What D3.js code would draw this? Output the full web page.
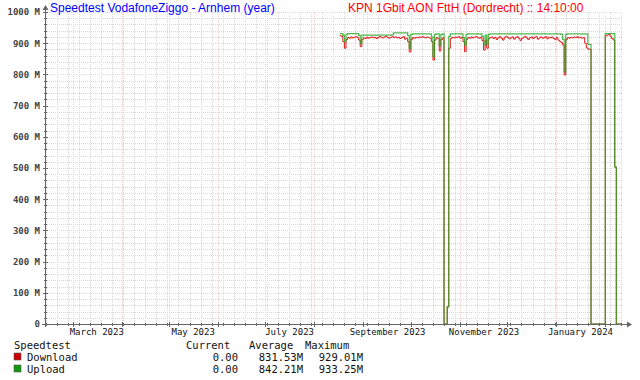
<!DOCTYPE html>
<html>
<head>
<meta charset="utf-8">
<script src="https://cdn.jsdelivr.net/npm/d3@7"></script>
<style>
  body { margin: 0; background: #fff; }
  svg { display: block; }
</style>
</head>
<body>
<div id="chart"></div>
<script>
// chart window and series (daily values, Mbit/s, one per day from seriesStart)
const windowStart = "2023-02-11T14:10:00";
const windowEnd = "2024-02-11T14:10:00";
const seriesStart = "2023-08-17";

const download = [
  924, 922, 905, 884, 912, 918, 916, 920, 917, 919, 921, 918, 910, 889, 912, 917, 915, 919, 916, 918,
  920, 917, 919, 915, 918, 921, 919, 917, 920, 922, 918, 916, 919, 921, 918, 920, 917, 919, 915, 918,
  921, 913, 916, 905, 872, 912, 918, 916, 919, 917, 920, 918, 921, 919, 917, 920, 918, 916, 905, 846,
  910, 918, 915, 875, 912, 917, 0, 0, 55, 884, 915, 919, 917, 920, 918, 921, 916, 919, 905, 873,
  912, 918, 916, 920, 917, 919, 921, 918, 916, 919, 908, 878, 910, 884, 914, 918, 920, 915, 919, 912,
  917, 921, 916, 910, 918, 922, 919, 914, 917, 920, 913, 918, 921, 916, 909, 915, 919, 922, 917, 912,
  918, 920, 915, 919, 921, 913, 917, 920, 916, 918, 921, 914, 919, 917, 920, 915, 912, 918, 910, 906,
  902, 895, 798, 912, 918, 916, 919, 917, 920, 918, 921, 917, 919, 916, 918, 900, 885, 881, 881, 0,
  0, 0, 0, 0, 0, 0, 0, 0, 924, 926, 929, 922, 915, 910, 503, 0, 0, 0, 0
];
const upload = [
  931, 931, 925, 905, 928, 931, 931, 931, 931, 931, 931, 931, 925, 899, 926, 926, 926, 926, 926, 926,
  926, 926, 926, 926, 926, 926, 926, 926, 926, 926, 926, 926, 926, 927, 933, 933, 933, 933, 933, 933,
  933, 933, 933, 925, 884, 928, 930, 930, 930, 930, 930, 930, 930, 930, 930, 930, 930, 930, 920, 857,
  928, 930, 930, 892, 928, 930, 0, 0, 55, 922, 930, 930, 930, 930, 930, 930, 930, 930, 918, 894,
  928, 930, 930, 930, 930, 930, 930, 930, 930, 930, 922, 894, 926, 897, 928, 930, 930, 930, 930, 930,
  930, 930, 930, 930, 930, 930, 930, 930, 930, 930, 930, 930, 930, 930, 930, 930, 930, 930, 930, 930,
  930, 930, 930, 930, 930, 930, 930, 930, 930, 930, 930, 930, 930, 930, 930, 930, 930, 930, 930, 930,
  928, 912, 808, 928, 930, 930, 930, 930, 930, 930, 930, 930, 930, 930, 930, 930, 930, 896, 896, 0,
  0, 0, 0, 0, 0, 0, 0, 0, 931, 931, 931, 931, 931, 931, 503, 0, 0, 0, 0
];

const yTicks = [0, 100, 200, 300, 400, 500, 600, 700, 800, 900, 1000];
const yTickLabels = ["0", "100 M", "200 M", "300 M", "400 M", "500 M", "600 M", "700 M", "800 M", "900 M", "1000 M"];
const xLabelMonths = ["2023-03", "2023-05", "2023-07", "2023-09", "2023-11", "2024-01"];
const xTickLabels = ["March 2023", "May 2023", "July 2023", "September 2023", "November 2023", "January 2024"];

const titleLeft = "Speedtest VodafoneZiggo - Arnhem (year)";
const titleRight = "KPN 1Gbit AON FttH (Dordrecht) :: 14:10:00";
const legendTitle = "Speedtest";
const legendHeaders = ["Current", "Average", "Maximum"];
const legendNames = ["Download", "Upload"];
const legendColors = ["#cc0000", "#119911"];
const legendValues = [
  ["0.00", "831.53M", "929.01M"],
  ["0.00", "842.21M", "933.25M"]
];

// layout
const W = 640, H = 380;
const plot = { left: 45, right: 622, top: 12, bottom: 324 };
const mono = "'DejaVu Sans Mono', monospace";

const svg = d3.select("#chart")
    .append("svg")
    .attr("width", W)
    .attr("height", H)
    .style("font-family", mono);

svg.append("rect").attr("width", W).attr("height", H).attr("fill", "#fff");

const parse = d3.timeParse("%Y-%m-%dT%H:%M:%S");
const t0 = parse(windowStart), t1 = parse(windowEnd);

const x = d3.scaleTime().domain([t0, t1]).range([plot.left, plot.right]);
const y = d3.scaleLinear().domain([0, 1000]).range([plot.bottom, plot.top]);

// grid: minor (gray dotted) then major (light red)
const grid = svg.append("g").attr("shape-rendering", "crispEdges");
const minorGrid = "#d8d8d8", majorGrid = "#ffcccc";

grid.selectAll(".vminor")
    .data(d3.timeSunday.range(t0, t1))
    .enter().append("line")
    .attr("x1", d => Math.round(x(d)) + 0.5).attr("x2", d => Math.round(x(d)) + 0.5)
    .attr("y1", plot.top).attr("y2", plot.bottom)
    .attr("stroke", minorGrid).attr("stroke-dasharray", "1,1");

grid.selectAll(".hminor")
    .data(d3.range(20, 1000, 20).filter(v => v % 100 !== 0))
    .enter().append("line")
    .attr("x1", plot.left).attr("x2", plot.right)
    .attr("y1", d => Math.round(y(d)) + 0.5).attr("y2", d => Math.round(y(d)) + 0.5)
    .attr("stroke", minorGrid).attr("stroke-dasharray", "1,1");

grid.selectAll(".vmajor")
    .data(d3.timeMonth.range(t0, t1))
    .enter().append("line")
    .attr("x1", d => Math.round(x(d)) + 0.5).attr("x2", d => Math.round(x(d)) + 0.5)
    .attr("y1", plot.top).attr("y2", plot.bottom)
    .attr("stroke", majorGrid).attr("stroke-dasharray", "1,1");

grid.selectAll(".hmajor")
    .data(yTicks.filter(v => v > 0))
    .enter().append("line")
    .attr("x1", plot.left).attr("x2", plot.right)
    .attr("y1", d => Math.round(y(d)) + 0.5).attr("y2", d => Math.round(y(d)) + 0.5)
    .attr("stroke", majorGrid).attr("stroke-dasharray", "1,1");

// series lines
const day0 = d3.timeParse("%Y-%m-%d")(seriesStart);
function toPoints(values) {
  const pts = values.map((v, i) => ({ t: d3.timeDay.offset(day0, i), v: v }));
  pts.push({ t: t1, v: values[values.length - 1] }); // hold last value to the end of window
  return pts;
}

const line = d3.line()
    .x(d => x(d.t))
    .y(d => y(d.v))
    .curve(d3.curveStepAfter);

svg.append("path")
    .datum(toPoints(download))
    .attr("fill", "none")
    .attr("stroke", "#dd1c1c")
    .attr("stroke-width", 1)
    .attr("d", line);

svg.append("path")
    .datum(toPoints(upload))
    .attr("fill", "none")
    .attr("stroke", "#22a522")
    .attr("stroke-opacity", 0.8)
    .attr("stroke-width", 1.2)
    .attr("d", line);

// axes lines + arrows
const axisColor = "#666";
const ax = svg.append("g").attr("shape-rendering", "crispEdges");
ax.append("line")
    .attr("x1", plot.left - 3).attr("x2", plot.right + 5)
    .attr("y1", plot.bottom + 0.5).attr("y2", plot.bottom + 0.5)
    .attr("stroke", axisColor);
ax.append("line")
    .attr("x1", plot.left + 0.5).attr("x2", plot.left + 0.5)
    .attr("y1", plot.bottom + 3).attr("y2", plot.top - 3)
    .attr("stroke", axisColor);

// ticks on y axis
ax.selectAll(".ytick")
    .data(yTicks)
    .enter().append("line")
    .attr("x1", plot.left - 2).attr("x2", plot.left + 3)
    .attr("y1", d => Math.round(y(d)) + 0.5).attr("y2", d => Math.round(y(d)) + 0.5)
    .attr("stroke", axisColor);
ax.selectAll(".ytickm")
    .data(d3.range(20, 1000, 20).filter(v => v % 100 !== 0))
    .enter().append("line")
    .attr("x1", plot.left - 1).attr("x2", plot.left + 2)
    .attr("y1", d => Math.round(y(d)) + 0.5).attr("y2", d => Math.round(y(d)) + 0.5)
    .attr("stroke", axisColor);
// ticks on x axis
ax.selectAll(".xtick")
    .data(d3.timeMonth.range(t0, t1))
    .enter().append("line")
    .attr("x1", d => Math.round(x(d)) + 0.5).attr("x2", d => Math.round(x(d)) + 0.5)
    .attr("y1", plot.bottom - 2).attr("y2", plot.bottom + 3)
    .attr("stroke", axisColor);
ax.selectAll(".xtickm")
    .data(d3.timeSunday.range(t0, t1))
    .enter().append("line")
    .attr("x1", d => Math.round(x(d)) + 0.5).attr("x2", d => Math.round(x(d)) + 0.5)
    .attr("y1", plot.bottom - 1).attr("y2", plot.bottom + 2)
    .attr("stroke", axisColor);

svg.append("path")
    .attr("d", `M${plot.left + 0.5},${plot.top - 7} l-3,5 l6,0 z`)
    .attr("fill", axisColor);
svg.append("path")
    .attr("d", `M${plot.right + 10},${plot.bottom + 0.5} l-5,-3 l0,6 z`)
    .attr("fill", axisColor);

// y axis labels
const yAxis = svg.append("g")
    .attr("transform", `translate(${plot.left},0)`)
    .call(d3.axisLeft(y)
        .tickValues(yTicks)
        .tickFormat((d, i) => yTickLabels[i])
        .tickSize(0)
        .tickPadding(5));
yAxis.select(".domain").remove();
yAxis.selectAll("text")
    .style("font-family", mono)
    .style("font-size", "9px")
    .style("font-weight", "bold")
    .attr("fill", "#444");

// x axis labels (placed mid month, like rrdtool)
const labelDates = xLabelMonths.map(m => d3.timeDay.offset(d3.timeParse("%Y-%m")(m), 15));
const xAxis = svg.append("g")
    .attr("transform", `translate(0,${plot.bottom})`)
    .call(d3.axisBottom(x)
        .tickValues(labelDates)
        .tickFormat((d, i) => xTickLabels[i])
        .tickSize(0)
        .tickPadding(5));
xAxis.select(".domain").remove();
xAxis.selectAll("text")
    .style("font-family", mono)
    .style("font-size", "9px")
    .attr("fill", "#111");

// titles
svg.append("text")
    .attr("x", 50).attr("y", 12)
    .style("font-family", "'Liberation Sans', Arial, sans-serif")
    .style("font-size", "12px")
    .attr("fill", "#0000ff")
    .text(titleLeft);
svg.append("text")
    .attr("x", 348).attr("y", 12)
    .style("font-family", "'Liberation Sans', Arial, sans-serif")
    .style("font-size", "12px")
    .attr("fill", "#ff0000")
    .text(titleRight);

// legend
const lg = svg.append("g").style("font-size", "10.5px").attr("fill", "#111");
lg.append("text").attr("x", 14).attr("y", 349).text(legendTitle);
const headerX = [186, 249, 305];
legendHeaders.forEach((h, i) => {
  lg.append("text").attr("x", headerX[i]).attr("y", 349).text(h);
});
const valueRight = [238, 303, 363];
legendNames.forEach((name, r) => {
  const base = 361 + r * 12;
  lg.append("rect")
      .attr("x", 14).attr("y", base - 8)
      .attr("width", 7).attr("height", 7)
      .attr("fill", legendColors[r])
      .attr("stroke", "#555").attr("stroke-width", 0.6);
  lg.append("text").attr("x", 27).attr("y", base).text(name);
  legendValues[r].forEach((v, c) => {
    lg.append("text").attr("x", valueRight[c]).attr("y", base)
        .attr("text-anchor", "end").text(v);
  });
});
</script>
</body>
</html>
